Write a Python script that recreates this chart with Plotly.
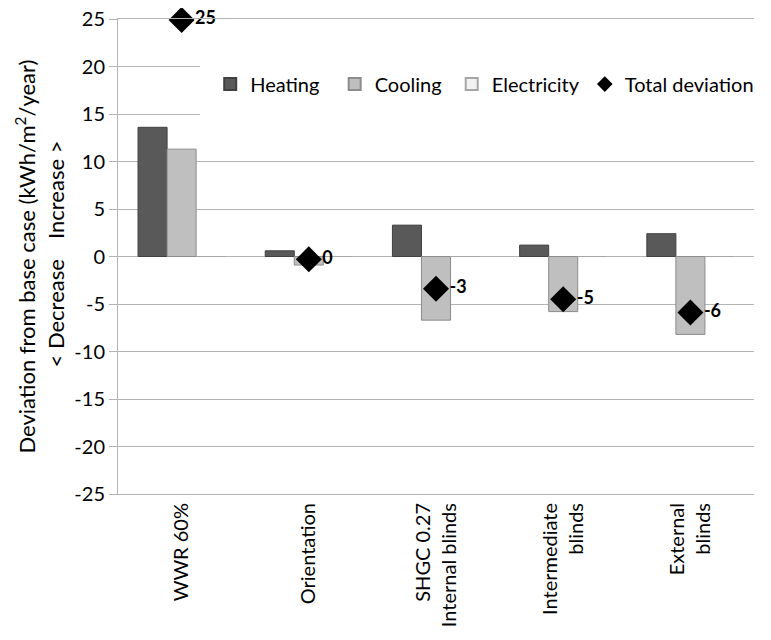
import plotly.graph_objects as go

categories = ["WWR 60%", "Orientation", "SHGC 0.27<br>Internal blinds", "Intermediate<br>blinds", "External<br>blinds"]
series_names = ["Heating", "Cooling", "Electricity", "Total deviation"]
heating = [13.6, 0.6, 3.3, 1.2, 2.4]
cooling = [11.3, -0.9, -6.7, -5.8, -8.2]
electricity = [0.0, 0.0, 0.0, 0.0, 0.0]
total = [24.9, -0.3, -3.4, -4.5, -5.9]
total_labels = ["25", "0", "-3", "-5", "-6"]
y_ticks = [25, 20, 15, 10, 5, 0, -5, -10, -15, -20, -25]
y_tick_text = [str(v) for v in y_ticks]

xs = list(range(len(categories)))
FONT = "Lato"
GRID = "#b4b4b4"
NB = "\u00a0"  # legend spacing

fig = go.Figure()
fig.add_trace(go.Bar(x=xs, y=heating, name=series_names[0] + NB * 2,
                     marker=dict(color="#595959", line=dict(color="#404040", width=1))))
fig.add_trace(go.Bar(x=xs, y=cooling, name=series_names[1] + NB,
                     marker=dict(color="#bfbfbf", line=dict(color="#8c8c8c", width=1))))
fig.add_trace(go.Bar(x=xs, y=electricity, name=series_names[2],
                     marker=dict(color="#f2f2f2", line=dict(color="#a6a6a6", width=1))))
fig.add_trace(go.Scatter(x=xs, y=total, name=series_names[3], mode="markers+text",
                         marker=dict(symbol="diamond", size=20, color="black"),
                         text=total_labels, textposition="middle right", cliponaxis=False,
                         textfont=dict(family=FONT, size=18, color="black", weight="bold")))

# white panel behind the legend (hides the gridlines there, as in the original)
fig.add_shape(type="rect", xref="paper", yref="paper", x0=0.129, x1=1.03, y0=0.775, y1=0.93,
              fillcolor="white", line=dict(width=0), layer="above")

fig.update_layout(
    width=763, height=632,
    margin=dict(l=110, r=17, t=11, b=146),
    paper_bgcolor="white", plot_bgcolor="white",
    barmode="group", bargap=0.315, bargroupgap=0,
    font=dict(family=FONT, size=19, color="black"),
    showlegend=True,
    legend=dict(orientation="h", x=0.145, y=0.863, xanchor="left", yanchor="middle",
                bgcolor="rgba(0,0,0,0)", font=dict(family=FONT, size=20), itemsizing="constant",
                traceorder="normal"),
    xaxis=dict(range=[-0.5, len(categories) - 0.5], tickvals=xs, ticktext=categories,
               tickangle=-90, showgrid=False, zeroline=False, showline=True, mirror=True,
               linecolor=GRID, linewidth=1, ticks="", automargin=False,
               tickfont=dict(family=FONT, size=20)),
    xaxis2=dict(overlaying="x", anchor="free", position=0.5, side="bottom",
                range=[-0.5, len(categories) - 0.5],
                tickvals=[i + 0.5 for i in xs], ticks="outside", ticklen=6,
                tickcolor=GRID, showticklabels=False, showgrid=False,
                zeroline=False, showline=False),
    yaxis=dict(range=[-25, 25], tickvals=y_ticks, ticktext=y_tick_text,
               showgrid=True, gridcolor=GRID,
               zeroline=True, zerolinecolor=GRID, zerolinewidth=1,
               showline=True, linecolor=GRID, linewidth=1, automargin=False,
               ticks="outside", ticklen=8, tickcolor=GRID, ticklabeloverflow="allow",
               tickfont=dict(family=FONT, size=20)),
)

fig.add_annotation(text="Deviation from base case (kWh/m<sup>2</sup>/year)",
                   xref="paper", yref="paper", x=0, y=0.5, xshift=-93,
                   xanchor="center", yanchor="middle", textangle=-90,
                   showarrow=False, font=dict(family=FONT, size=22))
fig.add_annotation(text="Increase >", xref="paper", yref="y", x=0, y=7,
                   xshift=-63, xanchor="center", yanchor="middle", textangle=-90,
                   showarrow=False, font=dict(family=FONT, size=22))
fig.add_annotation(text="< Decrease", xref="paper", yref="y", x=0, y=-6.0,
                   xshift=-63, xanchor="center", yanchor="middle", textangle=-90,
                   showarrow=False, font=dict(family=FONT, size=22))

fig.write_html("out.html")
